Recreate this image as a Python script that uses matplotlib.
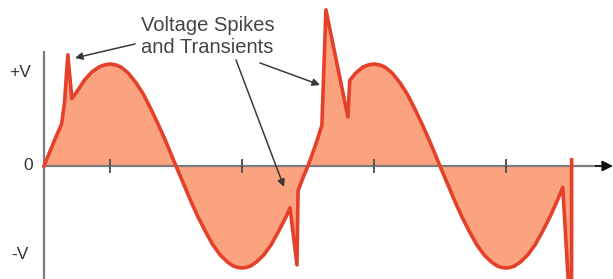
import numpy as np
import matplotlib
matplotlib.use("Agg")
import matplotlib.pyplot as plt

# waveform: phase in degrees, voltage as fraction of V
wave_deg = [0, 8, 16, 24, 28, 32.5, 38, 45, 55, 65, 75, 82, 90, 98, 105, 115,
            125, 135, 145, 155, 165, 172, 180, 190, 200, 210, 220, 230, 240, 250,
            258, 264, 270, 276, 282, 290, 300, 310, 320, 330, 335.5, 345, 346.5,
            353, 360, 366, 372, 379, 384.5, 414.5, 417, 425, 435, 442, 450, 458,
            465, 475, 485, 495, 505, 515, 525, 532, 540, 550, 560, 570, 580, 590,
            600, 610, 618, 624, 630, 636, 642, 650, 660, 670, 680, 690, 700,
            707.5, 716, 719.5, 719.6]
wave_volt = [0, 0.14, 0.28, 0.41, 0.62, 1.09, 0.66, 0.73, 0.84, 0.92, 0.97, 0.99,
             1.0, 0.99, 0.97, 0.91, 0.82, 0.71, 0.57, 0.42, 0.26, 0.14, 0, -0.17,
             -0.34, -0.5, -0.64, -0.77, -0.87, -0.94, -0.98, -0.995, -1.0, -0.995,
             -0.98, -0.94, -0.87, -0.77, -0.64, -0.5, -0.41, -0.97, -0.24, -0.12,
             0, 0.12, 0.24, 0.40, 1.53, 0.48, 0.84, 0.91, 0.97, 0.99, 1.0, 0.99,
             0.97, 0.91, 0.82, 0.71, 0.57, 0.42, 0.26, 0.14, 0, -0.17, -0.34, -0.5,
             -0.64, -0.77, -0.87, -0.94, -0.98, -0.995, -1.0, -0.995, -0.98, -0.94,
             -0.87, -0.77, -0.64, -0.5, -0.34, -0.21, -1.25, -1.25, 0.06]

tick_deg = [90, 270, 450, 630]
level_labels = ["+V", "0", "-V"]
level_values = [0.92, 0.0, -0.87]

x = np.array(wave_deg)
y = np.array(wave_volt)

fig = plt.figure(figsize=(6.13, 2.79), dpi=100)
ax = fig.add_axes([0, 0, 1, 1])
ax.set_xlim(-60, 776)
ax.set_ylim(-1.108, 1.627)
ax.axis("off")

# fill + waveform
ax.fill_between(x, y, 0, color="#FBA27E", lw=0, zorder=2)
ax.plot(x, y, color="#E4402A", lw=2.6, zorder=4, solid_joinstyle="round")

# axes
ax.plot([0, 0], [-1.2, 1.12], color="#7d7d7d", lw=1.6, zorder=3)
ax.plot([0, 760], [0, 0], color="#7d7d7d", lw=1.6, zorder=3)
ax.annotate("", xy=(776, 0), xytext=(752, 0),
            arrowprops=dict(arrowstyle="-|>", color="#111111", lw=1.2,
                            mutation_scale=16, shrinkA=0, shrinkB=0), zorder=5)
for t in tick_deg:
    ax.plot([t, t], [-0.06, 0.06], color="#555555", lw=1.4, zorder=3)

for lab, v in zip(level_labels, level_values):
    xpos = -22 if lab == "0" else -33
    ax.text(xpos, v, lab, ha="center", va="center", fontsize=12.5,
            family="Liberation Sans", color="#333333")

ax.text(223, 1.27, "Voltage Spikes\nand Transients", ha="center", va="center",
        fontsize=14.5, family="Liberation Sans", color="#444444", linespacing=1.17)

arrow_kw = dict(arrowstyle="-|>", color="#3a3a3a", lw=1.1, mutation_scale=11,
                shrinkA=0, shrinkB=0)
ax.annotate("", xy=(42.3, 1.059), xytext=(124.1, 1.196), arrowprops=arrow_kw, zorder=6)
ax.annotate("", xy=(376.4, 0.794), xytext=(294.5, 1.01), arrowprops=arrow_kw, zorder=6)
ax.annotate("", xy=(327.3, -0.206), xytext=(261.8, 1.04), arrowprops=arrow_kw, zorder=6)

fig.savefig("out.png", dpi=100)
